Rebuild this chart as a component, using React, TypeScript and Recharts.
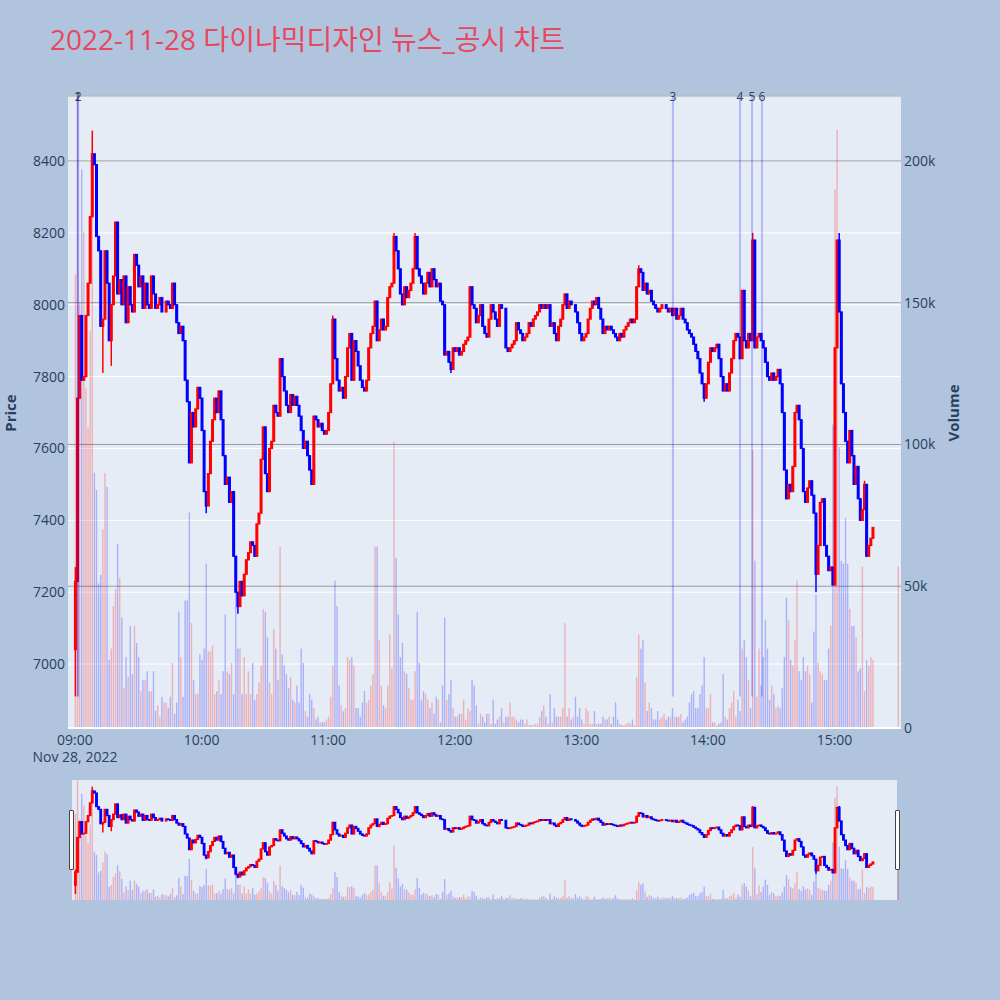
import React from 'react';
import { ComposedChart, Bar, XAxis, YAxis, CartesianGrid, ReferenceLine } from 'recharts';

const RED = '#ff0000';
const BLUE = '#0000ff';
const TEXT = '#2a3f5f';
const FONT = '"Open Sans", "Noto Sans CJK KR", sans-serif';

const title = '2022-11-28 다이나믹디자인 뉴스_공시 차트';

// minute candles from 09:00 (index = minutes after 09:00)
const firstOpen = 7040;
const closes = [
  7230, 7740, 7970, 7790, 7800, 7970, 8060, 8245, 8420, 8390,
  8190, 8150, 7940, 7960, 8150, 8060, 7900, 8000, 8080, 8230,
  8030, 8070, 8000, 8080, 7950, 8050, 8000, 7980, 8140, 8110,
  8050, 8080, 7990, 8060, 8000, 7990, 8080, 8030, 7990, 8000,
  8020, 7980, 7980, 8010, 8000, 7990, 8060, 8000, 7950, 7920,
  7940, 7900, 7790, 7730, 7560, 7700, 7660, 7710, 7770, 7740,
  7650, 7480, 7440, 7530, 7620, 7680, 7740, 7700, 7760, 7680,
  7580, 7500, 7520, 7450, 7480, 7300, 7200, 7160, 7230, 7190,
  7250, 7290, 7310, 7340, 7330, 7300, 7390, 7420, 7570, 7660,
  7530, 7480, 7600, 7620, 7720, 7700, 7690, 7850, 7800, 7760,
  7720, 7700, 7750, 7720, 7745, 7720, 7690, 7650, 7600, 7620,
  7580, 7540, 7500, 7690, 7680, 7660, 7670, 7650, 7640, 7650,
  7700, 7780, 7960, 7850, 7790, 7760, 7770, 7740, 7800, 7880,
  7920, 7790, 7900, 7870, 7830, 7790, 7770, 7760, 7790, 7880,
  7920, 7940, 8010, 7900, 7930, 7960, 7930, 7940, 8020, 8050,
  8060, 8190, 8150, 8100, 8030, 8000, 8050, 8020, 8040, 8060,
  8100, 8190, 8100, 8080, 8060, 8030, 8060, 8090, 8050, 8100,
  8070, 8050, 8060, 8010, 8000, 7860, 7870, 7840, 7820, 7880,
  7870, 7880, 7860, 7870, 7890, 7900, 7910, 8050, 8000, 7990,
  7950, 7970, 8000, 7940, 7920, 7910, 7960, 8000, 7980, 7960,
  7940, 8000, 7990, 7990, 7880, 7870, 7880, 7890, 7900, 7950,
  7930, 7920, 7900, 7910, 7920, 7950, 7940, 7960, 7970, 7980,
  8000, 7990, 8000, 7990, 8000, 7940, 7950, 7920, 7900, 7940,
  7960, 8000, 8030, 7990, 8010, 8000, 8000, 7980, 7950, 7920,
  7900, 7910, 7920, 7960, 7990, 8010, 8000, 8020, 7990, 7960,
  7920, 7940, 7930, 7940, 7930, 7920, 7910, 7900, 7920, 7910,
  7930, 7940, 7950, 7960, 7950, 7960, 8050, 8100, 8090, 8040,
  8060, 8030, 8040, 8010, 8000, 7990, 7980, 7990, 8000, 8000,
  7990, 7980, 7990, 7970, 7990, 7960, 7970, 7990, 7960, 7950,
  7930, 7920, 7910, 7890, 7870, 7850, 7810, 7780, 7740, 7780,
  7840, 7880, 7870, 7880, 7890, 7850, 7800, 7760, 7780, 7760,
  7810, 7850, 7900, 7920, 7910, 7850, 8040, 7900, 7880, 7920,
  7900, 8180, 7880, 7910, 7920, 7900, 7880, 7840, 7800, 7790,
  7810, 7790, 7800, 7820, 7780, 7700, 7540, 7460, 7500, 7480,
  7550, 7700, 7720, 7680, 7600, 7480, 7450, 7490, 7510, 7470,
  7420, 7250, 7330, 7450, 7460, 7330, 7300, 7260, 7270, 7220,
  7880, 8180, 7980, 7780, 7700, 7620, 7560, 7650, 7580, 7500,
  7550, 7460, 7400, 7430, 7500, 7300, 7330, 7350, 7380,
];

// volume per minute, thousands of shares
const volumesK = [
  160, 222, 150, 197, 175, 120, 106, 140, 208, 90,
  84, 51, 54, 70, 90, 85, 24, 28, 43, 49,
  65, 53, 39, 14, 25, 18, 36, 19, 36, 30,
  25, 13, 17, 17, 20, 13, 13, 20, 6, 8,
  4, 11, 9, 9, 7, 11, 23, 5, 9, 41,
  25, 11, 45, 45, 76, 37, 17, 12, 12, 26,
  24, 28, 58, 27, 27, 29, 12, 13, 17, 12,
  20, 40, 20, 19, 23, 12, 50, 28, 28, 12,
  25, 12, 20, 12, 23, 10, 12, 16, 22, 42,
  41, 32, 16, 12, 35, 28, 17, 64, 26, 22,
  19, 14, 18, 10, 9, 15, 9, 28, 23, 6,
  4, 12, 10, 7, 3, 4, 2, 2, 2, 3,
  4, 11, 22, 52, 43, 15, 8, 6, 7, 25,
  24, 25, 22, 7, 7, 4, 9, 13, 9, 10,
  15, 19, 64, 64, 31, 15, 8, 7, 15, 33,
  21, 101, 60, 40, 25, 30, 20, 19, 14, 10,
  10, 20, 41, 23, 10, 13, 12, 10, 7, 9,
  5, 11, 10, 2, 15, 39, 10, 12, 17, 7,
  4, 4, 5, 5, 10, 3, 7, 6, 17, 15,
  8, 1.5, 5, 4, 2, 5, 5, 1.5, 10, 1.5,
  3, 4, 7, 2, 4, 4, 9, 4, 4, 3,
  2, 3, 3, 1.5, 3, 1, 1, 1, 1.5, 1.5,
  4, 6, 8, 4, 1.5, 12, 2, 7, 4, 4,
  4, 7, 37, 4, 7, 3, 4, 11, 4, 7,
  3, 1.5, 7, 6, 1.5, 1.5, 6, 1.5, 1.5, 1.5,
  4, 3, 3, 4, 1.5, 4, 9, 3, 1.5, 1,
  1, 1.5, 2, 1.5, 3, 1, 18, 33, 28, 31,
  16, 6, 9, 7, 3, 3, 6, 3, 4, 5,
  3, 4, 4, 7, 4, 4, 4, 5, 2, 3,
  4, 9, 12, 13, 7, 7, 12, 15, 25, 7,
  7, 12, 2, 2, 1, 1.5, 2, 19, 4, 3,
  7, 9, 13, 4, 10, 6, 28, 31, 25, 17,
  7, 98, 59, 11, 28, 15, 25, 38, 28, 10,
  15, 12, 7, 8, 7, 14, 25, 46, 38, 24,
  22, 31, 52, 20, 17, 25, 20, 22, 19, 9,
  34, 47, 23, 20, 19, 17, 17, 28, 36, 107,
  190, 211, 99, 59, 58, 74, 58, 42, 36, 36,
  32, 20, 21, 57, 13, 24, 22, 25, 24,
];

// wicks that reach past the body (0 = none)
const wickIdx = [0, 8, 13, 17, 62, 77, 122, 151, 161, 178, 267, 298, 321, 351, 362, 374];
const wickHigh = [7270, 8485, 0, 0, 0, 0, 7970, 8200, 8200, 0, 8110, 0, 8200, 0, 8200, 7510];
const wickLow = [6910, 0, 7810, 7830, 7420, 7140, 0, 0, 0, 7810, 0, 7730, 0, 7200, 0, 0];

// 15:30 closing auction
const auctionMinute = 390;
const auctionPrice = 7390;
const auctionVolumeK = 57;

// news / disclosure times (minutes after 09:00)
const newsMinutes = [1.3, 1.5, 283.4, 315.2, 320.9, 325.6];
const newsLabels = ['1', '2', '3', '4', '5', '6'];

const timeTicks = [0, 60, 120, 180, 240, 300, 360];
const timeLabels = ['09:00', '10:00', '11:00', '12:00', '13:00', '14:00', '15:00'];
const dateLabel = 'Nov 28, 2022';
const priceTicks = [7000, 7200, 7400, 7600, 7800, 8000, 8200, 8400];
const volumeTicks = [0, 50000, 100000, 150000, 200000];

const X_DOMAIN: [number, number] = [-3.3, 391.5];
const PRICE_DOMAIN: [number, number] = [6822, 8581];
const VOLUME_DOMAIN: [number, number] = [0, 222900];

const rows = closes.map((close, i) => {
  const open = i === 0 ? firstOpen : closes[i - 1];
  let high = Math.max(open, close);
  let low = Math.min(open, close);
  const w = wickIdx.indexOf(i);
  if (w >= 0) {
    if (wickHigh[w]) high = wickHigh[w];
    if (wickLow[w]) low = wickLow[w];
  }
  return { t: i, open, close, high, low, volume: volumesK[i] * 1000 };
});
rows.push({
  t: auctionMinute,
  open: auctionPrice,
  close: auctionPrice,
  high: auctionPrice,
  low: auctionPrice,
  volume: auctionVolumeK * 1000,
});

// body is filled and outlined like a plotly candlestick
const candleShape = (bodyW: number, line: number) => (p: any) => {
  const { x, y, width, height, payload } = p;
  if (x == null || y == null || !payload) return <g />;
  const cx = x + width / 2;
  const top = Math.min(y, y + height);
  const h = Math.abs(height);
  const span = payload.high - payload.low;
  const k = span > 0 ? h / span : 0;
  const yOpen = top + (payload.high - payload.open) * k;
  const yClose = top + (payload.high - payload.close) * k;
  const color = payload.close >= payload.open ? RED : BLUE;
  const bodyTop = Math.min(yOpen, yClose);
  const bodyH = Math.abs(yClose - yOpen);
  return (
    <g>
      <line x1={cx} x2={cx} y1={top} y2={top + h} stroke={color} strokeWidth={1.5} />
      <rect
        x={cx - bodyW / 2}
        y={bodyTop}
        width={bodyW}
        height={bodyH}
        fill={color}
        stroke={color}
        strokeWidth={line}
      />
    </g>
  );
};

const volumeShape = (barW: number) => (p: any) => {
  const { x, y, width, height, payload } = p;
  if (x == null || y == null || !payload) return <g />;
  const cx = x + width / 2;
  const up = payload.close >= payload.open;
  return (
    <rect
      x={cx - barW / 2}
      y={Math.min(y, y + height)}
      width={barW}
      height={Math.abs(height)}
      fill={up ? RED : BLUE}
      fillOpacity={0.25}
    />
  );
};

const TimeTick = (props: any) => {
  const { x, y, payload } = props;
  const i = timeTicks.indexOf(payload.value);
  return (
    <g>
      <text x={x} y={y} dy="0.71em" textAnchor="middle" fill={TEXT} fontSize={14}>
        {timeLabels[i]}
      </text>
      {i === 0 && (
        <text x={x} y={y + 17} dy="0.71em" textAnchor="middle" fill={TEXT} fontSize={14}>
          {dateLabel}
        </text>
      )}
    </g>
  );
};

const formatVolume = (v: number) => (v === 0 ? '0' : `${v / 1000}k`);

const newsBottom = PRICE_DOMAIN[0] + 0.05 * (PRICE_DOMAIN[1] - PRICE_DOMAIN[0]);

export default function App() {
  return (
    <div
      style={{
        position: 'absolute',
        left: 0,
        top: 0,
        width: 1000,
        height: 1000,
        background: '#b0c4de',
        fontFamily: FONT,
      }}
    >
      <div style={{ position: 'absolute', left: 0, top: 0 }}>
        <ComposedChart width={1000} height={780} data={rows} margin={{ top: 96, right: 39, bottom: 12, left: 0 }}>
          <CartesianGrid vertical={false} stroke="#ffffff" fill="#e5ecf6" />
          <CartesianGrid yAxisId="vol" xAxisId={0} vertical={false} stroke="#999999" />
          <XAxis
            dataKey="t"
            type="number"
            domain={X_DOMAIN}
            allowDataOverflow
            ticks={timeTicks}
            interval={0}
            axisLine={false}
            tickLine={false}
            tickSize={0}
            tickMargin={7}
            height={40}
            tick={<TimeTick />}
          />
          <XAxis xAxisId="tv" dataKey="t" type="number" domain={X_DOMAIN} allowDataOverflow hide />
          <YAxis
            domain={PRICE_DOMAIN}
            allowDataOverflow
            ticks={priceTicks}
            interval={0}
            width={68}
            axisLine={false}
            tickLine={false}
            tickSize={0}
            tickMargin={3}
            tick={{ fill: TEXT, fontSize: 14 }}
          />
          <YAxis
            yAxisId="vol"
            orientation="right"
            domain={VOLUME_DOMAIN}
            allowDataOverflow
            ticks={volumeTicks}
            interval={0}
            width={60}
            axisLine={false}
            tickLine={false}
            tickSize={0}
            tickMargin={3}
            tickFormatter={formatVolume}
            tick={{ fill: TEXT, fontSize: 14 }}
          />
          <ReferenceLine yAxisId="vol" y={0} stroke="#ffffff" strokeWidth={2} />
          <Bar
            xAxisId="tv"
            yAxisId="vol"
            dataKey="volume"
            barSize={1}
            shape={volumeShape(1.4)}
            isAnimationActive={false}
          />
          <Bar
            dataKey={(d: any) => [d.low, d.high]}
            barSize={1}
            shape={candleShape(1.8, 1.2)}
            isAnimationActive={false}
          />
          {newsMinutes.map((m, i) => (
            <ReferenceLine
              key={`news-${i}`}
              segment={[
                { x: m, y: newsBottom },
                { x: m, y: PRICE_DOMAIN[1] },
              ]}
              stroke={BLUE}
              strokeOpacity={0.22}
              strokeWidth={2}
              label={{ value: newsLabels[i], position: 'top', offset: -5, fill: TEXT, fontSize: 12 }}
            />
          ))}
        </ComposedChart>
      </div>

      {/* range slider */}
      <div style={{ position: 'absolute', left: 72, top: 780, width: 825, height: 120, background: '#e5ecf6' }} />
      <div style={{ position: 'absolute', left: 68, top: 780 }}>
        <ComposedChart width={833} height={120} data={rows} margin={{ top: 0, right: 0, bottom: 0, left: 0 }}>
          <XAxis dataKey="t" type="number" domain={X_DOMAIN} allowDataOverflow hide />
          <XAxis xAxisId="tv" dataKey="t" type="number" domain={X_DOMAIN} allowDataOverflow hide />
          <YAxis domain={PRICE_DOMAIN} allowDataOverflow hide />
          <YAxis yAxisId="vol" domain={VOLUME_DOMAIN} allowDataOverflow hide />
          <Bar
            xAxisId="tv"
            yAxisId="vol"
            dataKey="volume"
            barSize={1}
            shape={volumeShape(1.4)}
            isAnimationActive={false}
          />
          <Bar
            dataKey={(d: any) => [d.low, d.high]}
            barSize={1}
            shape={candleShape(1.6, 1.2)}
            isAnimationActive={false}
          />
        </ComposedChart>
      </div>
      <div
        style={{
          position: 'absolute',
          left: 69,
          top: 810,
          width: 5,
          height: 60,
          background: '#ffffff',
          border: '1px solid #444',
          boxSizing: 'border-box',
          borderRadius: 1,
        }}
      />
      <div
        style={{
          position: 'absolute',
          left: 895,
          top: 810,
          width: 5,
          height: 60,
          background: '#ffffff',
          border: '1px solid #444',
          boxSizing: 'border-box',
          borderRadius: 1,
        }}
      />

      <svg width={1000} height={1000} style={{ position: 'absolute', left: 0, top: 0, pointerEvents: 'none' }}>
        <text x={50} y={50} fontSize={28} fill="#e8485f" fontFamily={FONT}>
          {title}
        </text>
        <text
          x={10}
          y={413}
          transform="rotate(-90, 10, 413)"
          textAnchor="middle"
          dominantBaseline="central"
          fontSize={15}
          fontWeight="bold"
          fill={TEXT}
        >
          Price
        </text>
        <text
          x={953}
          y={413}
          transform="rotate(-90, 953, 413)"
          textAnchor="middle"
          dominantBaseline="central"
          fontSize={15}
          fontWeight="bold"
          fill={TEXT}
        >
          Volume
        </text>
      </svg>
    </div>
  );
}
